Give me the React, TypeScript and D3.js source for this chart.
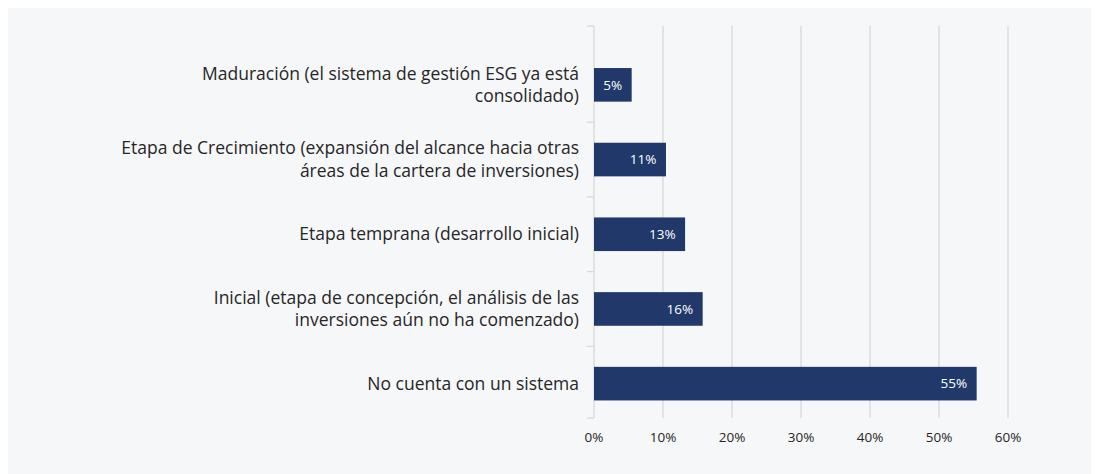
import React, { useEffect } from "react";
import * as d3 from "d3";

const categories: string[] = [
  "Maduración (el sistema de gestión ESG ya está\nconsolidado)",
  "Etapa de Crecimiento (expansión del alcance hacia otras\náreas de la cartera de inversiones)",
  "Etapa temprana (desarrollo inicial)",
  "Inicial (etapa de concepción, el análisis de las\ninversiones aún no ha comenzado)",
  "No cuenta con un sistema",
];
const values: number[] = [0.0546, 0.1043, 0.132, 0.1575, 0.5546];
const valueLabels: string[] = ["5%", "11%", "13%", "16%", "55%"];
const xTicks: number[] = [0, 0.1, 0.2, 0.3, 0.4, 0.5, 0.6];

const W = 1091;
const H = 466;
const FONT = "'Open Sans', sans-serif";

export default function App() {
  useEffect(() => {
    document.documentElement.style.overflow = "hidden";
    document.body.style.overflow = "hidden";
  }, []);

  const x = d3.scaleLinear().domain([0, 0.6]).range([586, 1000]);
  const y = d3
    .scaleBand<string>()
    .domain(categories)
    .range([39.5, 413])
    .paddingInner(0.55)
    .paddingOuter(0.275);
  const axisTop = 18;
  const axisBottom = 410;
  const bandBounds = categories.map((c) => (y(c) as number) - (y.step() * y.paddingInner()) / 2);
  const tickYs = [axisTop, ...bandBounds.slice(1), axisBottom];

  return (
    <svg width={W} height={H} style={{ display: "block" }} fontFamily={FONT}>
      <rect x={0} y={0} width={W} height={H} fill="#f6f7f9" />
      {xTicks.slice(1).map((t) => (
        <line key={t} x1={x(t)} x2={x(t)} y1={axisTop} y2={axisBottom} stroke="#d9d9d9" strokeWidth={1.3} />
      ))}
      <line x1={x(0)} x2={x(0)} y1={axisTop} y2={axisBottom} stroke="#d9d9d9" strokeWidth={1.3} />
      {tickYs.map((ty, i) => (
        <line key={i} x1={x(0) - 7} x2={x(0)} y1={ty} y2={ty} stroke="#d9d9d9" strokeWidth={1.3} />
      ))}
      {categories.map((c, i) => (
        <rect key={c} x={x(0)} y={y(c)} width={x(values[i]) - x(0)} height={y.bandwidth()} fill="#21386b" />
      ))}
      {categories.map((c, i) => (
        <text
          key={c}
          x={x(values[i]) - 9.5}
          y={(y(c) as number) + y.bandwidth() / 2}
          dy="0.35em"
          textAnchor="end"
          fill="#ffffff"
          fontSize={13.5}
        >
          {valueLabels[i]}
        </text>
      ))}
      {categories.map((c) => {
        const lines = c.split("\n");
        const cy = (y(c) as number) + y.bandwidth() / 2;
        const lh = 22.5;
        return (
          <text key={c} x={571} textAnchor="end" fill="#262626" fontSize={17.5}>
            {lines.map((l, j) => (
              <tspan key={j} x={571} y={cy + (j - (lines.length - 1) / 2) * lh} dy="0.35em">
                {l}
              </tspan>
            ))}
          </text>
        );
      })}
      {xTicks.map((t) => (
        <text key={t} x={x(t)} y={429} dy="0.35em" textAnchor="middle" fill="#262626" fontSize={13.5}>
          {d3.format(".0%")(t)}
        </text>
      ))}
    </svg>
  );
}
